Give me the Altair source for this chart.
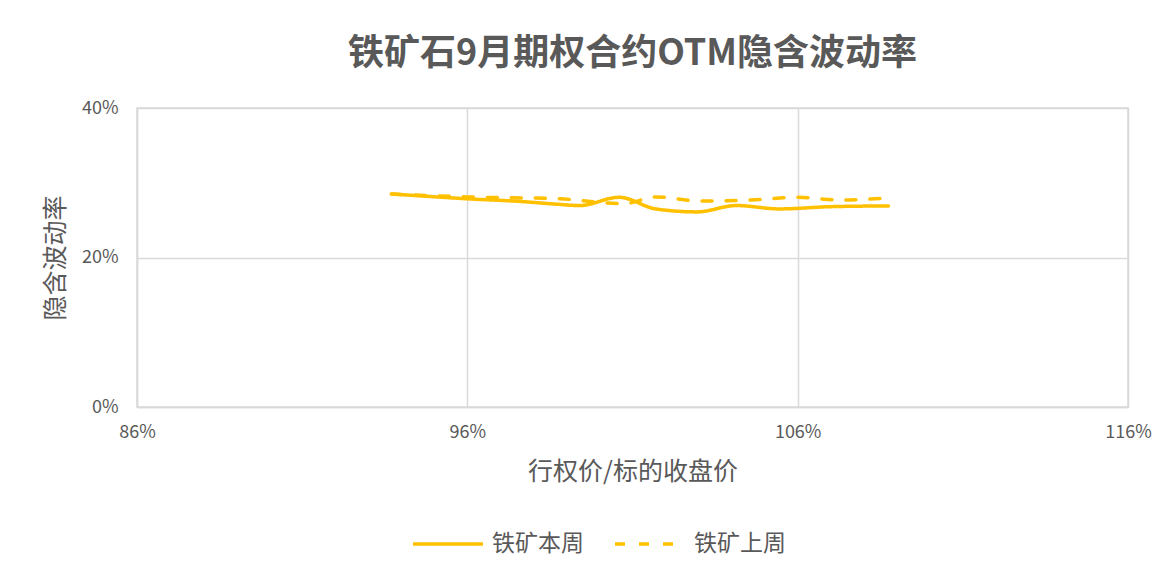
import altair as alt
import pandas as pd

FONT = "Noto Sans CJK SC"
GREY = "#595959"

series_names = ["铁矿本周", "铁矿上周"]

x_this = [93.7, 94.9, 96.0, 97.6, 98.65, 99.4, 100.6, 101.7, 102.95, 104.15, 105.45, 107.0, 108.75]
y_this = [28.5, 28.15, 27.85, 27.5, 27.15, 26.95, 28.05, 26.5, 26.1, 26.95, 26.5, 26.8, 26.9]

x_last = [93.7, 96.0, 98.8, 100.75, 101.7, 103.05, 104.55, 106.0, 107.3, 108.75]
y_last = [28.5, 28.1, 27.85, 27.2, 28.1, 27.55, 27.7, 28.05, 27.7, 27.95]

x_ticks = [86, 96, 106, 116]
y_ticks = [0, 20, 40]

df = pd.concat([
    pd.DataFrame({"x": x_this, "y": y_this, "series": series_names[0]}),
    pd.DataFrame({"x": x_last, "y": y_last, "series": series_names[1]}),
])

legend = alt.Legend(title=None, orient="none", legendX=274, legendY=399, direction="horizontal")

chart = alt.Chart(df).mark_line(
    interpolate="monotone", strokeWidth=3.5, strokeCap="round"
).encode(
    x=alt.X("x:Q", scale=alt.Scale(domain=[86, 116], nice=False, zero=False),
            axis=alt.Axis(values=x_ticks, title="行权价/标的收盘价",
                          labelExpr="datum.value + '%'", labelFlush=False)),
    y=alt.Y("y:Q", scale=alt.Scale(domain=[0, 40], nice=False),
            axis=alt.Axis(values=y_ticks, title="隐含波动率",
                          labelExpr="datum.value + '%'", labelFlush=False)),
    color=alt.Color("series:N", scale=alt.Scale(domain=series_names, range=["#FFC000", "#FFC000"]),
                    legend=legend),
    strokeDash=alt.StrokeDash("series:N", scale=alt.Scale(domain=series_names, range=[[1, 0], [10, 14]]),
                              legend=legend),
).properties(
    width=991,
    height=299,
    autosize=alt.AutoSizeParams(type="none"),
    padding={"left": 129, "top": 100, "right": 37, "bottom": 161},
    title=alt.TitleParams("铁矿石9月期权合约OTM隐含波动率", fontSize=36, fontWeight="bold",
                          color=GREY, font=FONT, anchor="middle", offset=26),
).configure_view(
    stroke="#D9D9D9", strokeWidth=1.5
).configure_axis(
    labelFont=FONT, titleFont=FONT, labelColor=GREY, titleColor=GREY,
    labelFontSize=18, titleFontSize=25, titleFontWeight="normal",
    grid=True, gridColor="#D9D9D9", gridWidth=1.5,
    domainColor="#D9D9D9", domainWidth=1.5, ticks=False,
).configure_axisX(
    labelPadding=16, titlePadding=18
).configure_axisY(
    labelPadding=19, titlePadding=13
).configure_legend(
    labelFont=FONT, labelFontSize=23, labelColor=GREY,
    symbolType="stroke", symbolSize=4900, symbolStrokeWidth=3.5,
    labelOffset=7, columnPadding=24, labelLimit=300,
)

chart.save("out.html", embed_options={"renderer": "svg", "actions": False})
